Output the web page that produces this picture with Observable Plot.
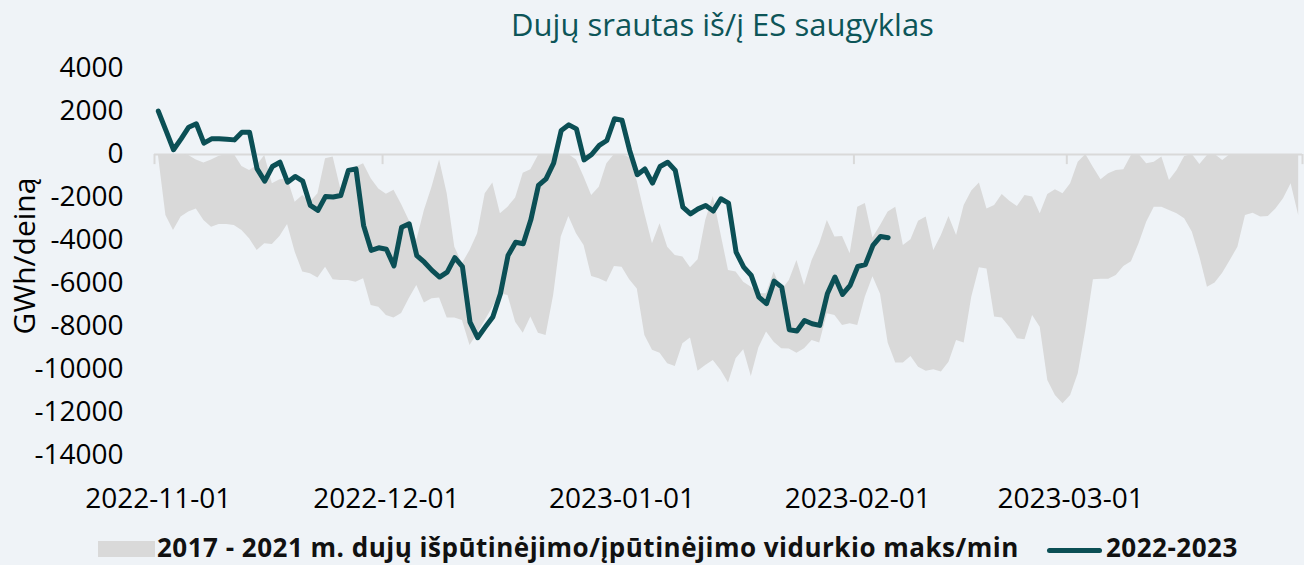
<!DOCTYPE html>
<html>
<head>
<meta charset="utf-8">
<script src="https://cdn.jsdelivr.net/npm/d3@7"></script>
<script src="https://cdn.jsdelivr.net/npm/@observablehq/plot@0.6"></script>
<style>
  html, body { margin: 0; padding: 0; background: #eff3f7; }
  body { width: 1304px; height: 565px; position: relative; overflow: hidden; font-family: "Open Sans", sans-serif; }
  #title { height: 58px; box-sizing: border-box; padding-top: 9px; padding-left: 141px; text-align: center;
           font-size: 31px; line-height: 31px; color: #0d5558; white-space: nowrap; }
  #chart { height: 470px; }
  #legend { position: absolute; top: 528px; left: 0; width: 1304px; height: 37px; }
  .sw-area { position: absolute; left: 98px; top: 13px; width: 57px; height: 16px; background: #d9d9d9; }
  .sw-line { position: absolute; left: 1047px; top: 20px; width: 55px; height: 5px; border-radius: 3px; background: #0b4f55; }
  .lg-text { position: absolute; top: 1px; font-size: 26px; line-height: normal; letter-spacing: 0.5px; font-weight: 700; color: #111; white-space: nowrap; }
</style>
</head>
<body>
<div id="title">Dujų srautas iš/į ES saugyklas</div>
<div id="chart"></div>
<div id="legend">
  <div class="sw-area"></div>
  <div class="lg-text" style="left:157px">2017 - 2021 m. dujų išpūtinėjimo/įpūtinėjimo vidurkio maks/min</div>
  <div class="sw-line"></div>
  <div class="lg-text" style="left:1106px">2022-2023</div>
</div>
<script>
// ---- Data (daily, starting 2022-11-01) ----
const startDay = "2022-11-01";

// 2022-2023 daily flow, GWh/day (Nov 1 – Feb 5)
const flow2223 = [
  2015, 1120, 220, 730, 1270, 1430, 530, 730, 730, 710,
  680, 1040, 1040, -670, -1240, -560, -360, -1290, -1020, -1240,
  -2370, -2600, -1950, -1980, -1910, -740, -670, -3300, -4460, -4340,
  -4410, -5180, -3380, -3220, -4700, -5010, -5390, -5700, -5470, -4800,
  -5210, -7800, -8520, -8030, -7560, -6480, -4700, -4080, -4150, -3040,
  -1440, -1130, -400, 1120, 1380, 1190, -250, 0, 420, 650,
  1660, 1590, 190, -940, -670, -1330, -560, -360, -740, -2450,
  -2760, -2530, -2370, -2630, -2060, -2260, -4540, -5240, -5630, -6630,
  -6940, -5890, -6170, -8150, -8210, -7720, -7870, -7950, -6480, -5700,
  -6510, -6090, -5210, -5120, -4230, -3810, -3870
];

// 2017-2021 band: max (upper edge), Nov 1 – Mar 31
const bandMax = [
  0, 0, 0, 0, -50, -250, -400, -250, -80, 0,
  0, -560, -740, -510, -50, -1360, -1180, -1130, -2220, -1910,
  -2220, -1830, -200, -120, -1600, -980, -590, -430, -1130, -1600,
  -1850, -1660, -2330, -3070, -4000, -2600, -1520, -250, -1830, -4310,
  -5080, -4460, -3690, -1830, -1330, -2760, -2450, -2020, -870, -710,
  -50, 0, 0, 0, 0, -250, -1050, -1910, -1520, -430,
  0, 0, -140, -1250, -2760, -4150, -3220, -4310, -4700, -4770,
  -5270, -4900, -3070, -1950, -3690, -5390, -5470, -5940, -6170, -6480,
  -6480, -5470, -6320, -5860, -4930, -6090, -4930, -4150, -3070, -3840,
  -3810, -4620, -2450, -2280, -3880, -3300, -2680, -2450, -4230, -3970,
  -3100, -2910, -4460, -3770, -2880, -3770, -2370, -1700, -1330, -2530,
  -2370, -1860, -2170, -2420, -1910, -1980, -2760, -1860, -1640, -1830,
  -1360, -360, 0, -600, -1170, -900, -740, -710, -50, 0,
  -430, -360, -120, -1210, -740, -90, 0, -470, -50, 0,
  -280, 0, 0, 0, 0, 0, 0, 0, 0, 0,
  0
];

// 2017-2021 band: min (lower edge), Nov 1 – Mar 31
const bandMin = [
  0, -2840, -3530, -2910, -2680, -2530, -3070, -3380, -3260, -3260,
  -3300, -3530, -3920, -4460, -4150, -4190, -3810, -3260, -4540, -5470,
  -5550, -5740, -5240, -5830, -5860, -5860, -5940, -5780, -7020, -7100,
  -7490, -7600, -7390, -6710, -6090, -6910, -6710, -6670, -7600, -7600,
  -7720, -8880, -8340, -7720, -7100, -6480, -6560, -7800, -8310, -7560,
  -8310, -8420, -6560, -3840, -2880, -3690, -4230, -5670, -5780, -5940,
  -5210, -5240, -5820, -6250, -8420, -9110, -9240, -9730, -9860, -8800,
  -8530, -10080, -9810, -9580, -10040, -10630, -9500, -9080, -10320, -8990,
  -8260, -8730, -9040, -9050, -9240, -9040, -8650, -8770, -7410, -7490,
  -7950, -7870, -7950, -6630, -5690, -6500, -8770, -9700, -9700, -9390,
  -9890, -10080, -10010, -10120, -9660, -8650, -8770, -6630, -5270, -5320,
  -7560, -7600, -8030, -8570, -8620, -7490, -8030, -10510, -11210, -11590,
  -11210, -10200, -8170, -5830, -5800, -5800, -5630, -5210, -4990, -4150,
  -3150, -2450, -2450, -2600, -2760, -2990, -3610, -4770, -6170, -5980,
  -5520, -4930, -4310, -2840, -2730, -2910, -2880, -2530, -2060, -1360,
  -2840
];

// Axis ticks
const monthTicks = ["2022-11-01", "2022-12-01", "2023-01-01", "2023-02-01", "2023-03-01", "2023-04-01"];
const xLabels = ["2022-11-01", "2022-12-01", "2023-01-01", "2023-02-01", "2023-03-01"];
const yTicks = [4000, 2000, 0, -2000, -4000, -6000, -8000, -10000, -12000, -14000];

// ---- Build tables ----
const DAY = 864e5;
const t0 = new Date(startDay + "T00:00:00Z").getTime();
const mid = (i) => new Date(t0 + i * DAY + DAY / 2); // point sits mid-day (between tick marks)
const bandData = bandMax.map((mx, i) => ({date: mid(i), max: mx, min: bandMin[i]}));
const lineData = flow2223.map((v, i) => ({date: mid(i), value: v}));
const tickDates = monthTicks.map(s => new Date(s + "T00:00:00Z"));
const labelDates = xLabels.map(s => new Date(new Date(s + "T00:00:00Z").getTime() + DAY / 2));

const chart = Plot.plot({
  width: 1304,
  height: 470,
  marginTop: 10,
  marginBottom: 73,
  marginLeft: 154,
  marginRight: 2,
  style: {background: "transparent", fontFamily: "'Open Sans', sans-serif", fontSize: "28px", color: "#000", overflow: "visible"},
  x: {type: "utc", domain: [tickDates[0], tickDates[tickDates.length - 1]]},
  y: {domain: [-14000, 4000]},
  marks: [
    Plot.ruleY([0], {stroke: "#d9d9d9", strokeWidth: 2}),
    Plot.ruleX(tickDates, {y1: 0, y2: -470, stroke: "#d9d9d9", strokeWidth: 2}),
    Plot.areaY(bandData, {x: "date", y1: "min", y2: "max", fill: "#d9d9d9"}),
    Plot.lineY(lineData, {x: "date", y: "value", stroke: "#0b4f55", strokeWidth: 5, strokeLinejoin: "round", strokeLinecap: "round"}),
    Plot.axisY({ticks: yTicks, tickSize: 0, tickPadding: 31, tickFormat: d => String(d), label: null}),
    Plot.axisX({ticks: labelDates, tickSize: 0, tickPadding: 33, tickFormat: d3.utcFormat("%Y-%m-%d"), label: null}),
    Plot.text(["GWh/deiną"], {frameAnchor: "left", textAnchor: "middle", rotate: -90, dx: -129, dy: -6, fontSize: 30, fill: "#000"})
  ]
});
document.getElementById("chart").appendChild(chart);
</script>
</body>
</html>
